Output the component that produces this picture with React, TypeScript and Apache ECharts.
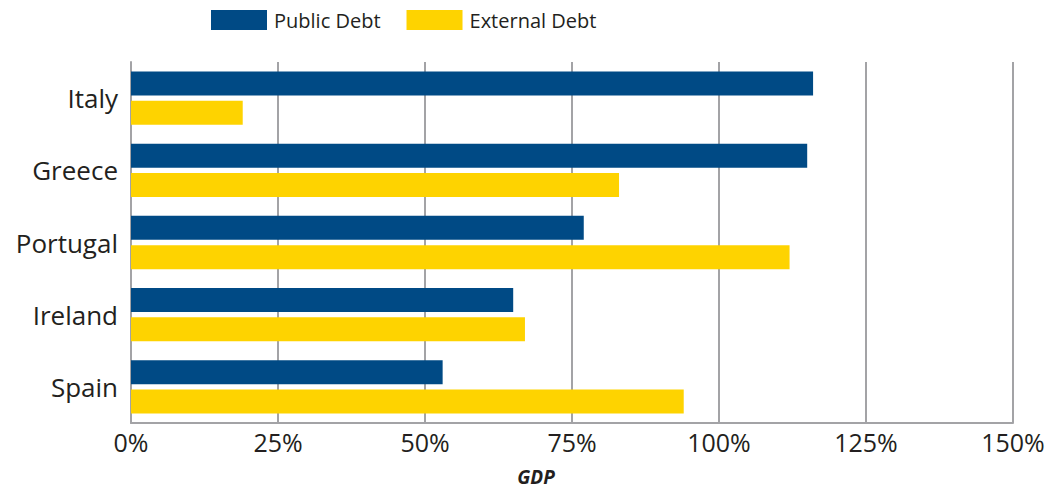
import React, { useEffect, useRef } from "react";
import * as echarts from "echarts";

const categories = ["Italy", "Greece", "Portugal", "Ireland", "Spain"];
const publicDebt = [116, 115, 77, 65, 53];
const externalDebt = [19, 83, 112, 67, 94];
const seriesNames = ["Public Debt", "External Debt"];
const xTicks = { min: 0, max: 150, interval: 25 };
const axisTitle = "GDP";

const FONT = "'Open Sans', 'Noto Sans', sans-serif";
const TEXT = "#231f20";
const GRID = "#a3a3a6";

export default function App() {
  const ref = useRef<HTMLDivElement>(null);
  useEffect(() => {
    if (!ref.current) return;
    const chart = echarts.init(ref.current, undefined, { renderer: "svg" });
    chart.setOption({
      animation: false,
      textStyle: { fontFamily: FONT, color: TEXT },
      legend: {
        top: 5,
        left: 206,
        itemWidth: 56,
        itemHeight: 20,
        itemGap: 26,
        icon: "rect",
        textStyle: { fontSize: 20, color: TEXT, fontFamily: FONT, padding: [0, 0, 0, 2] },
        data: seriesNames,
      },
      grid: {
        left: 131,
        right: 42,
        top: 62,
        bottom: 67,
        containLabel: false,
        outerBoundsMode: "none",
      },
      xAxis: {
        type: "value",
        min: xTicks.min,
        max: xTicks.max,
        interval: xTicks.interval,
        axisLine: { show: true, lineStyle: { color: GRID, width: 2 } },
        axisTick: { show: false },
        splitLine: { show: true, lineStyle: { color: GRID, width: 2 } },
        axisLabel: {
          formatter: "{value}%",
          fontSize: 25,
          color: TEXT,
          fontFamily: FONT,
          margin: 6,
        },
      },
      yAxis: {
        type: "category",
        data: categories,
        inverse: true,
        axisLine: { show: true, lineStyle: { color: GRID, width: 2 } },
        axisTick: { show: false },
        splitLine: { show: false },
        axisLabel: { fontSize: 26, color: TEXT, fontFamily: FONT, margin: 13 },
      },
      graphic: [
        {
          type: "text",
          x: 536,
          y: 477,
          style: {
            text: axisTitle,
            fontSize: 19,
            fontStyle: "italic",
            fontWeight: "bold",
            fill: TEXT,
            fontFamily: FONT,
            textAlign: "center",
            textVerticalAlign: "middle",
          },
        },
      ],
      series: [
        {
          name: seriesNames[0],
          type: "bar",
          data: publicDebt,
          barWidth: 24,
          barGap: "22%",
          itemStyle: { color: "#004a85" },
        },
        {
          name: seriesNames[1],
          type: "bar",
          data: externalDebt,
          barWidth: 24,
          barGap: "22%",
          itemStyle: { color: "#fed300" },
        },
      ],
    });
    return () => chart.dispose();
  }, []);
  return (
    <div
      ref={ref}
      style={{ position: "fixed", left: 0, top: 0, width: 1055, height: 490, background: "#fff" }}
    />
  );
}
